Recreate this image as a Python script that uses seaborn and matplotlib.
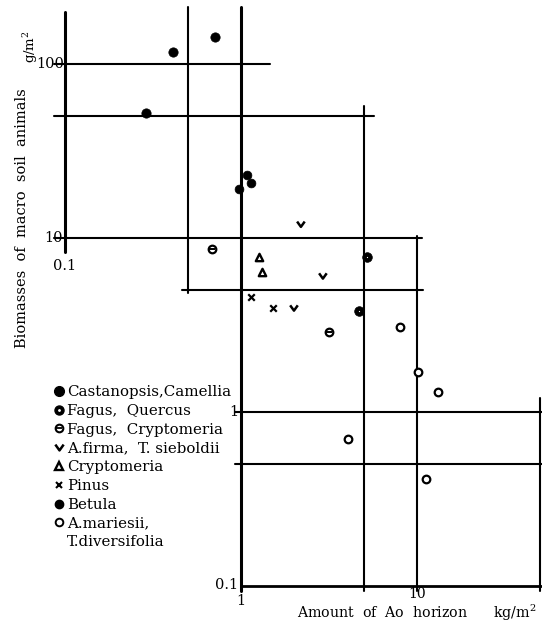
import numpy as np
import pandas as pd
import matplotlib
matplotlib.use("Agg")
import matplotlib.pyplot as plt
import seaborn as sns
from matplotlib.lines import Line2D
from matplotlib.path import Path
from matplotlib.legend_handler import HandlerTuple

# ---------------- data ----------------
cast_x = [0.41, 0.71, 0.29]
cast_y = [117, 143, 52]
fq_x = [5.2, 4.7]
fq_y = [7.8, 3.8]
fc_x = [0.68, 3.16]
fc_y = [8.65, 2.88]
af_x = [2.19, 2.92, 2.0]
af_y = [12.0, 6.05, 3.96]
cr_x = [1.27, 1.32]
cr_y = [7.8, 6.4]
pi_x = [1.14, 1.52]
pi_y = [4.6, 3.96]
be_x = [1.08, 1.14, 0.97]
be_y = [23.0, 20.7, 19.1]
am_x = [8.0, 10.1, 13.2, 4.06, 11.2]
am_y = [3.08, 1.70, 1.30, 0.70, 0.41]

labels = ["Castanopsis,Camellia", "Fagus,  Quercus", "Fagus,  Cryptomeria",
          "A.firma,  T. sieboldii", "Cryptomeria", "Pinus", "Betula",
          "A.mariesii,", "T.diversifolia"]

# frame structure (horizontal: y, x0, x1 ; vertical: x, y0, y1)
frame_h = [(100, 0.087, 1.46), (50, 0.087, 5.7), (10, 0.087, 10.7),
           (5, 0.46, 10.8), (1, 0.93, 51), (0.5, 0.93, 51), (0.1, 1.0, 51)]
frame_v = [(0.1, 8.3, 200), (0.5, 4.8, 212), (1, 0.094, 212),
           (5, 0.094, 57), (10, 0.094, 10.3), (50, 0.094, 1.2)]

# ---------------- figure ----------------
sns.set_style("white")
plt.rcParams['font.family'] = ['DejaVu Serif']
plt.rcParams['mathtext.fontset'] = 'dejavuserif'
plt.rcParams['text.color'] = 'black'

W, H = 542, 622
fig = plt.figure(figsize=(W / 100, H / 100), dpi=100)
ax = fig.add_axes([65 / W, 1 - 586 / H, (540 - 65) / W, (586 - 11.6) / H])
ax.set_xscale('log')
ax.set_yscale('log')
ax.set_xlim(0.1, 50)
ax.set_ylim(0.1, 200)
ax.set_axis_off()

for (yv, x0, x1) in frame_h:
    lw = 2.0 if yv == 0.1 else 1.5
    ax.plot([x0, x1], [yv, yv], color='black', lw=lw, clip_on=False, zorder=1)
for (xv, y0, y1) in frame_v:
    lw = 2.2 if xv in (0.1, 1) else 1.5
    ax.plot([xv, xv], [y0, y1], color='black', lw=lw, clip_on=False, zorder=1)

vpath = Path([(-1.0, 0.7), (0.0, -0.7), (1.0, 0.7)],
             [Path.MOVETO, Path.LINETO, Path.LINETO])

k = dict(ax=ax, legend=False, zorder=3, clip_on=False)
sns.scatterplot(x=cast_x, y=cast_y, marker='o', s=45, color='black',
                edgecolor='black', linewidth=0.5, **k)
sns.scatterplot(x=be_x, y=be_y, marker='o', s=40, color='black',
                edgecolor='black', linewidth=0.5, **k)
sns.scatterplot(x=fq_x, y=fq_y, marker='o', s=48, color='black',
                edgecolor='black', linewidth=0.5, **k)
sns.scatterplot(x=fq_x, y=fq_y, marker='o', s=0.8, color='white',
                edgecolor='white', linewidth=0, ax=ax, legend=False, zorder=4)
sns.scatterplot(x=fc_x, y=fc_y, marker='o', s=30, color='white',
                edgecolor='black', linewidth=1.6, **k)
sns.scatterplot(x=fc_x, y=fc_y, marker='_', s=18, color='black',
                linewidth=1.4, ax=ax, legend=False, zorder=4)
sns.scatterplot(x=af_x, y=af_y, marker=vpath, s=30, facecolor='none',
                edgecolor='black', linewidth=1.8, **k)
sns.scatterplot(x=cr_x, y=cr_y, marker='^', s=28, color='white',
                edgecolor='black', linewidth=1.7, **k)
sns.scatterplot(x=pi_x, y=pi_y, marker='x', s=22, color='black',
                linewidth=1.6, **k)
sns.scatterplot(x=am_x, y=am_y, marker='o', s=30, color='white',
                edgecolor='black', linewidth=1.6, **k)

# ---------------- tick labels ----------------
tfs = 10.5
def tlabel(x, y, s, dx, dy, ha, va, fs=tfs):
    ax.annotate(s, xy=(x, y), xytext=(dx, dy), textcoords='offset points',
                ha=ha, va=va, fontsize=fs)

tlabel(0.1, 100, "100", -0.5, 0, 'right', 'center')
tlabel(0.1, 10, "10", -1.5, 0, 'right', 'center')
tlabel(0.1, 8.3, "0.1", 0, -5, 'center', 'top')
tlabel(1, 1, "1", -2, 0, 'right', 'center')
tlabel(1, 0.1, "0.1", -2, 1, 'right', 'center')
tlabel(1, 0.1, "1", 0, -6, 'center', 'top')
tlabel(10, 0.1, "10", 0, -1, 'center', 'top', 10)

fig.text(297 / W, 1 - 613 / H, "Amount  of  Ao  horizon      kg/m$^{\\mathregular{2}}$",
         ha='left', va='center', fontsize=10.2)
fig.text(22 / W, 1 - 218 / H, "Biomasses  of  macro  soil  animals",
         rotation=90, ha='center', va='center', fontsize=10.5)
fig.text(31 / W, 1 - 47 / H, "g/m$^{\\mathregular{2}}$", rotation=90,
         ha='center', va='center', fontsize=9.5)

# ---------------- legend ----------------
def L(**kw):
    base = dict(linestyle='none', color='black')
    base.update(kw)
    return Line2D([], [], **base)

handles = [
    L(marker='o', markersize=7, markerfacecolor='black'),
    (L(marker='o', markersize=6.5, markerfacecolor='black'),
     L(marker='o', markersize=1.0, markerfacecolor='white', markeredgecolor='white')),
    (L(marker='o', markersize=5.5, markerfacecolor='white', markeredgewidth=1.5),
     L(marker='_', markersize=4, markeredgewidth=1.3)),
    L(marker=vpath, markersize=6, markerfacecolor='none', markeredgewidth=1.8),
    L(marker='^', markersize=6, markerfacecolor='white', markeredgewidth=1.7),
    L(marker='x', markersize=5, markeredgewidth=1.5),
    L(marker='o', markersize=6, markerfacecolor='black'),
    L(marker='o', markersize=5.5, markerfacecolor='white', markeredgewidth=1.4),
    L(marker=None),
]
leg = fig.legend(handles, labels, loc='upper left',
                 bbox_to_anchor=(54 / W, 1 - 385 / H), frameon=False,
                 fontsize=10.8, handlelength=0.7, handletextpad=0.15,
                 labelspacing=0.32, borderpad=0, borderaxespad=0,
                 handler_map={tuple: HandlerTuple(ndivide=1)})

fig.savefig("out.png", dpi=100, facecolor='white')
